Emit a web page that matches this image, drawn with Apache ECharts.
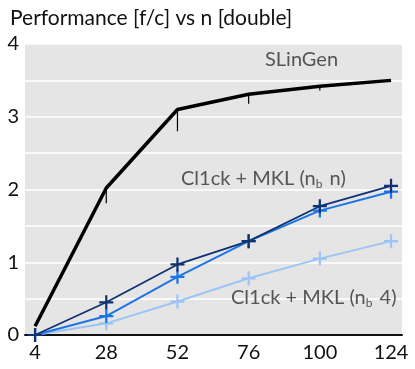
<!DOCTYPE html>
<html>
<head>
<meta charset="utf-8">
<script src="https://cdn.jsdelivr.net/npm/echarts@6/dist/echarts.min.js"></script>
<style>
    html, body { margin: 0; padding: 0; background: #fff; }
    #chart { width: 415px; height: 369px; }
</style>
</head>
<body>
<div id="chart"></div>
<script>
// Data
const sizes = [4, 28, 52, 76, 100, 124]
const slingen = [0.12, 2.02, 3.10, 3.31, 3.42, 3.50]
const slingenLow = [0.12, 1.81, 2.80, 3.18, 3.36, 3.50]
const clickNbN = [0.0, 0.45, 0.97, 1.29, 1.77, 2.05]
const clickMid = [0.0, 0.26, 0.80, 1.29, 1.71, 1.97]
const clickNb4 = [0.0, 0.16, 0.46, 0.78, 1.05, 1.29]
const yTicks = [0, 1, 2, 3, 4]

const FONT = 'Lato'
const plus = 'path://M0,4.2H10V5.8H0ZM4.2,0H5.8V10H4.2Z'

const pairs = arr => sizes.map((n, i) => [n, arr[i]])

function blueSeries(name, data, color, width) {
    return {
        name: name,
        type: 'line',
        data: pairs(data),
        symbol: plus,
        symbolSize: 14,
        showSymbol: true,
        lineStyle: { color: color, width: width },
        itemStyle: { color: color },
        z: 3
    }
}

// label with a subscript "b"
function seriesLabel(left, top, tail) {
    return {
        type: 'text',
        left: left,
        top: top,
        z: 10,
        style: {
            text: '{a|Cl1ck + MKL (n}{s|b}{a| ' + tail + ')}',
            rich: {
                a: { fontFamily: FONT, fontSize: 20, fill: '#555', color: '#555' },
                s: { fontFamily: FONT, fontSize: 12, fill: '#555', color: '#555', padding: [10, 2, 0, 0] }
            }
        }
    }
}

const chart = echarts.init(document.getElementById('chart'))

const option = {
    animation: false,
    textStyle: { fontFamily: FONT },
    title: {
        text: 'Performance [f/c] vs n [double]',
        left: 5,
        top: 3,
        textStyle: { fontFamily: FONT, fontSize: 21, fontWeight: 'normal', color: '#111' }
    },
    grid: {
        left: 25,
        right: 13,
        top: 44,
        bottom: 34,
        show: true,
        backgroundColor: '#e5e5e5',
        borderWidth: 0
    },
    xAxis: {
        type: 'value',
        min: 0.6,
        max: 127.7,
        axisLine: { show: true, lineStyle: { color: '#111', width: 2 } },
        axisTick: { show: false },
        splitLine: { show: false },
        axisLabel: {
            customValues: sizes,
            margin: 8,
            fontFamily: FONT,
            fontSize: 20,
            color: '#111'
        }
    },
    yAxis: {
        type: 'value',
        min: 0,
        max: 4,
        interval: 0.5,
        axisLine: { show: false },
        axisTick: { show: false },
        splitLine: { lineStyle: { color: '#ffffff', width: 1.5 } },
        axisLabel: {
            margin: 6,
            fontFamily: FONT,
            fontSize: 20,
            color: '#111',
            formatter: v => (yTicks.includes(v) ? String(v) : '')
        }
    },
    series: [
        {
            name: 'SLinGen',
            type: 'line',
            data: pairs(slingen),
            showSymbol: false,
            lineStyle: { color: '#000', width: 3.5 },
            z: 4
        },
        {
            name: 'SLinGen range',
            type: 'custom',
            data: sizes.map((n, i) => [n, slingen[i], slingenLow[i]]),
            renderItem: (params, api) => {
                const top = api.coord([api.value(0), api.value(1)])
                const bottom = api.coord([api.value(0), api.value(2)])
                return {
                    type: 'line',
                    shape: { x1: top[0], y1: top[1], x2: bottom[0], y2: bottom[1] },
                    style: { stroke: '#000', lineWidth: 1.2 }
                }
            },
            z: 4
        },
        blueSeries('Cl1ck + MKL (nb 4)', clickNb4, '#9cc4f5', 2),
        blueSeries('Cl1ck + MKL mid', clickMid, '#1d74e6', 2),
        blueSeries('Cl1ck + MKL (nb n)', clickNbN, '#0f3371', 1.8)
    ],
    graphic: [
        {
            type: 'text',
            left: 265,
            top: 50,
            z: 10,
            style: { text: 'SLinGen', font: '20px ' + FONT, fill: '#555' }
        },
        seriesLabel(181, 169, 'n'),
        seriesLabel(231, 288, '4')
    ]
}

chart.setOption(option)
</script>
</body>
</html>
